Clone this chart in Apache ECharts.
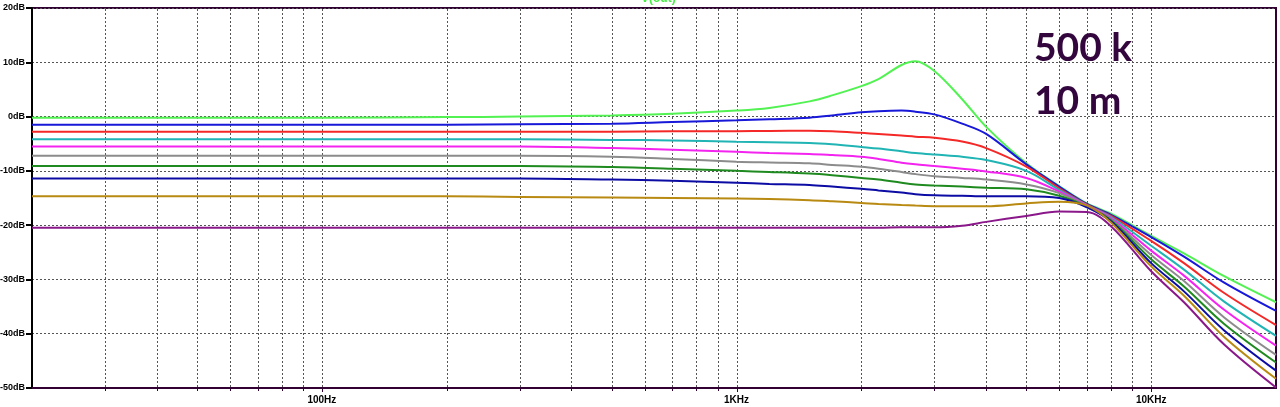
<!DOCTYPE html>
<html><head><meta charset="utf-8">
<script src="https://cdn.jsdelivr.net/npm/echarts@6/dist/echarts.min.js"></script>
<style>html,body{margin:0;padding:0;background:#fff}#c{width:1280px;height:407px}</style>
</head><body><div id="c"></div>
<script>
// Frequencies (Hz)
const freqs = [20, 100, 200, 300, 500, 700, 1000, 1200, 1500, 1700, 2000, 2200, 2500, 2700, 3000, 3500, 4000, 5000, 6000, 7000, 8000, 10000, 12000, 15000, 20000];
// Magnitude (dB) of each trace
const tGreen   = [-0.2, -0.2, -0.1, 0.0, 0.2, 0.5, 1.1, 1.6, 2.8, 3.9, 5.6, 6.9, 9.5, 10.2, 8.4, 3.2, -1.9, -8.6, -12.8, -16.0, -17.9, -22.0, -25.2, -29.4, -34.2];
const tBlue    = [-1.5, -1.5, -1.5, -1.4, -1.3, -1.0, -0.7, -0.5, -0.2, 0.2, 0.8, 1.0, 1.1, 0.9, 0.4, -1.3, -3.2, -8.8, -12.9, -16.1, -18.1, -22.2, -25.8, -30.6, -35.8];
const tRed     = [-2.8, -2.8, -2.8, -2.8, -2.8, -2.7, -2.7, -2.65, -2.6, -2.7, -3.0, -3.2, -3.5, -3.7, -3.9, -4.6, -5.8, -9.2, -13.2, -16.2, -18.3, -22.9, -27.0, -32.5, -38.4];
const tCyan    = [-4.2, -4.2, -4.2, -4.2, -4.3, -4.4, -4.65, -4.75, -4.85, -5.1, -5.6, -5.9, -6.4, -6.7, -7.0, -7.4, -8.0, -10.0, -13.5, -16.3, -18.5, -23.8, -28.2, -34.1, -40.4];
const tMagenta = [-5.5, -5.5, -5.5, -5.5, -5.8, -6.1, -6.5, -6.7, -6.9, -7.1, -7.4, -7.8, -8.5, -8.8, -9.1, -9.6, -10.1, -11.3, -13.8, -16.4, -18.7, -24.7, -29.3, -35.6, -42.2];
const tGray    = [-7.2, -7.2, -7.2, -7.2, -7.4, -7.8, -8.3, -8.45, -8.6, -8.9, -9.25, -9.6, -10.2, -10.6, -11.0, -11.3, -11.6, -12.5, -14.1, -16.5, -18.9, -25.5, -30.3, -37.0, -43.9];
const tDkGreen = [-9.1, -9.1, -9.1, -9.1, -9.3, -9.6, -10.0, -10.2, -10.5, -10.8, -11.3, -11.6, -12.2, -12.5, -12.7, -12.9, -13.1, -13.4, -14.6, -16.6, -19.1, -26.3, -31.3, -38.2, -45.3];
const tDkBlue  = [-11.4, -11.4, -11.4, -11.4, -11.6, -11.8, -12.2, -12.4, -12.6, -12.9, -13.3, -13.6, -14.0, -14.3, -14.5, -14.6, -14.7, -14.7, -15.0, -16.7, -19.3, -27.0, -32.2, -39.4, -46.8];
const tGold    = [-14.7, -14.7, -14.7, -14.8, -14.9, -15.0, -15.1, -15.2, -15.4, -15.6, -15.9, -16.1, -16.3, -16.4, -16.5, -16.5, -16.5, -16.0, -15.7, -16.4, -19.5, -27.6, -33.0, -40.6, -48.3];
const tPurple  = [-20.5, -20.5, -20.5, -20.5, -20.5, -20.5, -20.5, -20.5, -20.5, -20.5, -20.5, -20.5, -20.4, -20.4, -20.4, -20.1, -19.4, -18.3, -17.5, -17.6, -20.2, -28.5, -34.2, -42.0, -49.9];

const traceNames  = ['g', 'b', 'r', 'c', 'm', 'gr', 'dg', 'db', 'go', 'p'];
const traceData   = [tGreen, tBlue, tRed, tCyan, tMagenta, tGray, tDkGreen, tDkBlue, tGold, tPurple];
const traceColors = ['#52f252', '#1818d8', '#f52828', '#20b4b4', '#f424f0', '#8c8c8c', '#1f8a1f', '#0c0ca4', '#b98a12', '#8a188a'];

// Axis labels
const xLabels = {100: '100Hz', 1000: '1KHz', 10000: '10KHz'};
const gridFreqs = [30, 40, 50, 60, 70, 80, 90, 100, 200, 300, 400, 500, 600, 700, 800, 900, 1000, 2000, 3000, 4000, 5000, 6000, 7000, 8000, 9000, 10000];

const chart = echarts.init(document.getElementById('c'), null, {renderer: 'canvas'});

const lineSeries = traceData.map((arr, i) => ({
  name: traceNames[i],
  type: 'line',
  data: freqs.map((f, j) => [f, arr[j]]),
  symbol: 'none',
  smooth: 0.35,
  z: 3,
  lineStyle: {color: traceColors[i], width: 2},
  silent: true
}));

const gridSeries = {
  type: 'custom',
  silent: true,
  clip: false,
  z: 1,
  data: gridFreqs.map(f => [f, -50]),
  encode: {x: 0, y: 1},
  renderItem: (params, api) => {
    const f = api.value(0);
    const top = api.coord([f, 20]);
    const bot = api.coord([f, -50]);
    const x = Math.round(top[0]) + 0.5;
    const major = (f === 100 || f === 1000 || f === 10000);
    return {
      type: 'group',
      children: [
        {type: 'line', shape: {x1: x, y1: top[1] + 1, x2: x, y2: bot[1] - 1},
         style: {stroke: '#555', lineWidth: 1, lineDash: [2, 2]}},
        {type: 'line', shape: {x1: x, y1: bot[1], x2: x, y2: bot[1] + (major ? 4 : 3)},
         style: {stroke: '#330033', lineWidth: 1}}
      ]
    };
  }
};

chart.setOption({
  animation: false,
  backgroundColor: '#fff',
  grid: {left: 32, right: 4, top: 8, bottom: 19, show: true, borderColor: '#330033', borderWidth: 2, containLabel: false, outerBoundsMode: 'none'},
  xAxis: {
    type: 'log', logBase: 10, min: 20, max: 20000,
    axisLine: {show: true, onZero: false, lineStyle: {color: '#330033', width: 2}},
    axisTick: {show: false},
    splitLine: {show: false},
    axisLabel: {
      formatter: v => xLabels[Math.round(v)] || '',
      color: '#000', fontSize: 10, fontWeight: 'bold', fontFamily: 'Liberation Sans', margin: 7,
      showMinLabel: true, showMaxLabel: true
    }
  },
  yAxis: {
    type: 'value', min: -50, max: 20, interval: 10,
    axisLine: {show: true, lineStyle: {color: '#000', width: 2}},
    axisTick: {show: true, length: 6, lineStyle: {color: '#000', width: 2}},
    splitLine: {show: true, lineStyle: {color: '#555', width: 1, type: [2, 2]}},
    axisLabel: {formatter: v => v + 'dB', color: '#000', fontSize: 9, fontWeight: 'bold', fontFamily: 'Liberation Sans', margin: 7}
  },
  graphic: [
    {type: 'text', left: 641, top: -7, z: 10, style: {text: 'V(out)', fill: '#44ee44', font: 'bold 12px "Liberation Sans"'}},
    {type: 'text', z: 10, style: {text: '500 k', x: 1034, y: 48, verticalAlign: 'middle', fill: '#33063d', font: 'bold 39px Lato'}},
    {type: 'text', z: 10, style: {text: '10 m', x: 1034, y: 101, verticalAlign: 'middle', fill: '#33063d', font: 'bold 39px Lato'}}
  ],
  series: [gridSeries].concat(lineSeries)
});
</script>
</body></html>
